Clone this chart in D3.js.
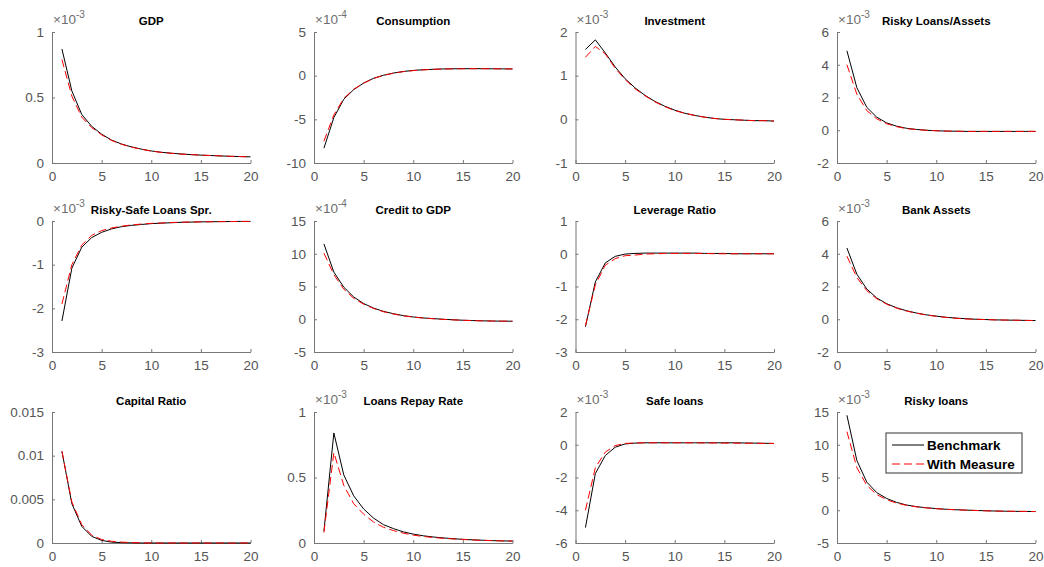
<!DOCTYPE html>
<html><head><meta charset="utf-8">
<script src="https://cdn.jsdelivr.net/npm/d3@7"></script>
<style>
html,body{margin:0;padding:0;background:#fff;}
svg{display:block;font-family:"Liberation Sans",Arial,Helvetica,sans-serif;}
</style></head>
<body>
<script>
// ---------- data ----------
const periods = d3.range(1, 21);
const xTicks = [0, 5, 10, 15, 20];
const titles = ["GDP","Consumption","Investment","Risky Loans/Assets",
  "Risky-Safe Loans Spr.","Credit to GDP","Leverage Ratio","Bank Assets",
  "Capital Ratio","Loans Repay Rate","Safe loans","Risky loans"];
const exponents = [-3,-4,-3,-3,-3,-4,null,-3,null,-3,-3,-3];
const yDomains = [[0,1],[-10,5],[-1,2],[-2,6],[-3,0],[-5,15],[-3,1],[-2,6],[0,0.015],[0,1],[-6,2],[-5,15]];
const yTickLabels = [[0,0.5,1],[-10,-5,0,5],[-1,0,1,2],[-2,0,2,4,6],[-3,-2,-1,0],[-5,0,5,10,15],
  [-3,-2,-1,0,1],[-2,0,2,4,6],[0,0.005,0.01,0.015],[0,0.5,1],[-6,-4,-2,0,2],[-5,0,5,10,15]];
const seriesNames = ["Benchmark","With Measure"];

const gdpBench  = [0.87,0.55,0.37,0.28,0.22,0.175,0.145,0.123,0.106,0.092,0.082,0.075,0.069,0.064,0.06,0.057,0.054,0.051,0.049,0.047];
const gdpMeas   = [0.79,0.51,0.35,0.27,0.215,0.172,0.143,0.121,0.105,0.091,0.081,0.074,0.068,0.064,0.06,0.057,0.054,0.051,0.049,0.047];
const consBench = [-8.3,-4.8,-2.7,-1.6,-0.85,-0.3,0.05,0.3,0.48,0.6,0.68,0.73,0.77,0.79,0.8,0.8,0.8,0.79,0.78,0.77];
const consMeas  = [-7.5,-4.5,-2.6,-1.55,-0.85,-0.32,0.03,0.28,0.46,0.58,0.66,0.72,0.76,0.78,0.79,0.8,0.8,0.79,0.78,0.77];
const invBench  = [1.6,1.82,1.52,1.2,0.93,0.72,0.55,0.41,0.3,0.21,0.14,0.09,0.05,0.02,0.0,-0.01,-0.02,-0.03,-0.03,-0.04];
const invMeas   = [1.42,1.67,1.5,1.17,0.91,0.7,0.54,0.4,0.29,0.2,0.14,0.09,0.05,0.02,0.0,-0.01,-0.02,-0.03,-0.03,-0.04];
const rlaBench  = [4.85,2.6,1.4,0.8,0.45,0.25,0.12,0.05,0.0,-0.03,-0.05,-0.06,-0.07,-0.07,-0.07,-0.07,-0.07,-0.07,-0.07,-0.07];
const rlaMeas   = [4.0,2.2,1.2,0.7,0.4,0.22,0.1,0.04,0.0,-0.03,-0.05,-0.06,-0.07,-0.07,-0.07,-0.07,-0.07,-0.07,-0.07,-0.07];
const sprBench  = [-2.29,-1.08,-0.6,-0.38,-0.26,-0.18,-0.13,-0.1,-0.08,-0.06,-0.05,-0.04,-0.03,-0.025,-0.02,-0.017,-0.014,-0.012,-0.01,-0.01];
const sprMeas   = [-1.9,-1.0,-0.55,-0.33,-0.22,-0.16,-0.12,-0.09,-0.07,-0.055,-0.045,-0.035,-0.028,-0.023,-0.02,-0.017,-0.014,-0.012,-0.01,-0.01];
const cgdpBench = [11.5,7.2,4.9,3.4,2.4,1.7,1.2,0.85,0.55,0.35,0.2,0.1,0.0,-0.08,-0.15,-0.2,-0.24,-0.27,-0.29,-0.3];
const cgdpMeas  = [10.1,6.8,4.6,3.2,2.3,1.65,1.15,0.8,0.52,0.33,0.18,0.08,-0.02,-0.1,-0.16,-0.21,-0.25,-0.27,-0.29,-0.3];
const levBench  = [-2.23,-0.86,-0.28,-0.08,-0.01,0.01,0.02,0.02,0.02,0.02,0.02,0.02,0.01,0.01,0.01,0.0,0.0,0.0,0.0,0.0];
const levMeas   = [-2.2,-0.95,-0.35,-0.15,-0.06,-0.04,-0.01,0.0,0.01,0.01,0.01,0.01,0.01,0.0,0.0,0.0,0.0,0.0,0.0,0.0];
const baBench   = [4.35,2.75,1.85,1.3,0.95,0.7,0.52,0.38,0.27,0.19,0.12,0.07,0.03,0.0,-0.02,-0.04,-0.05,-0.06,-0.07,-0.08];
const baMeas    = [3.85,2.55,1.75,1.25,0.92,0.68,0.5,0.37,0.26,0.18,0.11,0.06,0.02,0.0,-0.02,-0.04,-0.05,-0.06,-0.07,-0.08];
const capBench  = [0.0105,0.0045,0.0019,0.00076,0.0003,0.0001,0.00004,0.00002,0,0,0,0,0,0,0,0,0,0,0,0];
const capMeas   = [0.0105,0.0047,0.0021,0.0009,0.0004,0.0002,0.0001,0.00005,0.00002,0,0,0,0,0,0,0,0,0,0,0];
const repBench  = [0.09,0.84,0.52,0.36,0.26,0.19,0.14,0.11,0.085,0.068,0.055,0.046,0.039,0.033,0.028,0.024,0.021,0.018,0.016,0.015];
const repMeas   = [0.08,0.69,0.44,0.3,0.22,0.16,0.12,0.095,0.075,0.06,0.05,0.042,0.036,0.031,0.027,0.023,0.02,0.018,0.016,0.015];
const safeBench = [-5.06,-1.76,-0.66,-0.15,0.05,0.1,0.12,0.12,0.12,0.12,0.12,0.12,0.12,0.12,0.12,0.12,0.11,0.1,0.09,0.08];
const safeMeas  = [-4.0,-1.4,-0.45,-0.05,0.08,0.11,0.12,0.12,0.12,0.12,0.12,0.12,0.11,0.11,0.1,0.1,0.09,0.09,0.08,0.08];
const rlBench   = [14.5,7.6,4.3,2.7,1.8,1.2,0.8,0.55,0.38,0.25,0.15,0.08,0.02,-0.03,-0.08,-0.12,-0.15,-0.17,-0.18,-0.2];
const rlMeas    = [12.0,6.5,3.8,2.4,1.6,1.1,0.75,0.52,0.36,0.24,0.14,0.07,0.01,-0.04,-0.09,-0.12,-0.15,-0.17,-0.18,-0.2];

const benchSeries = [gdpBench,consBench,invBench,rlaBench,sprBench,cgdpBench,levBench,baBench,capBench,repBench,safeBench,rlBench];
const measSeries  = [gdpMeas,consMeas,invMeas,rlaMeas,sprMeas,cgdpMeas,levMeas,baMeas,capMeas,repMeas,safeMeas,rlMeas];

// ---------- layout ----------
const W = 1044, H = 567;
const colLeft = [52, 314, 575.5, 837];
const rowTop = [32, 221, 412];
const pw = 198.5, ph = 131;
const axisColor = "#777777", tickText = "#555555";

const svg = d3.select("body").append("svg").attr("width", W).attr("height", H);

titles.forEach((title, i) => {
  const r = Math.floor(i / 4), c = i % 4;
  const g = svg.append("g").attr("transform", `translate(${colLeft[c]},${rowTop[r]})`);
  const x = d3.scaleLinear().domain([0, 20]).range([0, pw]);
  const y = d3.scaleLinear().domain(yDomains[i]).range([ph, 0]);

  // axes
  const xAx = d3.axisBottom(x).tickValues(xTicks).tickSize(-3).tickPadding(8).tickSizeOuter(0).tickFormat(d => String(d));
  const yAx = d3.axisLeft(y).tickValues(yTickLabels[i]).tickSize(-3).tickPadding(8).tickSizeOuter(0).tickFormat(d => String(d));
  const gx = g.append("g").attr("transform", `translate(0,${ph})`).call(xAx);
  const gy = g.append("g").call(yAx);
  [gx, gy].forEach(a => {
    a.select(".domain").attr("stroke", axisColor).attr("stroke-width", 1);
    a.selectAll(".tick line").attr("stroke", axisColor).attr("stroke-width", 1);
    a.selectAll(".tick text").attr("fill", tickText).attr("font-size", 13.5)
      .attr("font-family", '"Liberation Sans",Arial,sans-serif');
  });

  // lines
  const line = d3.line().x((d, k) => x(periods[k])).y(d => y(d));
  g.append("path").datum(benchSeries[i]).attr("d", line)
    .attr("fill", "none").attr("stroke", "#000").attr("stroke-width", 1);
  g.append("path").datum(measSeries[i]).attr("d", line)
    .attr("fill", "none").attr("stroke", "#ff0000").attr("stroke-width", 1)
    .attr("stroke-dasharray", "8,4");

  // title
  g.append("text").attr("x", pw / 2).attr("y", -7).attr("text-anchor", "middle")
    .attr("font-size", 11.5).attr("font-weight", "bold").attr("fill", "#000").text(title);

  // exponent label
  if (exponents[i] !== null) {
    const t = g.append("text").attr("x", 1).attr("y", -8).attr("fill", "#6e6e6e").attr("font-size", 13.5);
    t.append("tspan").text("\u00d710");
    t.append("tspan").attr("dy", -6).attr("font-size", 10).text(String(exponents[i]));
  }

  // legend in last panel
  if (i === titles.length - 1) {
    const lg = g.append("g").attr("transform", `translate(${886 - colLeft[3]},${433 - rowTop[2]})`);
    lg.append("rect").attr("width", 136).attr("height", 40).attr("fill", "#fff")
      .attr("stroke", "#333").attr("stroke-width", 1);
    seriesNames.forEach((name, k) => {
      const yy = 12 + k * 19;
      lg.append("line").attr("x1", 6).attr("x2", 38).attr("y1", yy).attr("y2", yy)
        .attr("stroke", k === 0 ? "#000" : "#ff0000").attr("stroke-width", 1)
        .attr("stroke-dasharray", k === 0 ? null : "8,4");
      lg.append("text").attr("x", 41).attr("y", yy + 5).attr("font-size", 13.5)
        .attr("font-weight", "bold").attr("fill", "#000").text(name);
    });
  }
});
</script>
</body></html>
